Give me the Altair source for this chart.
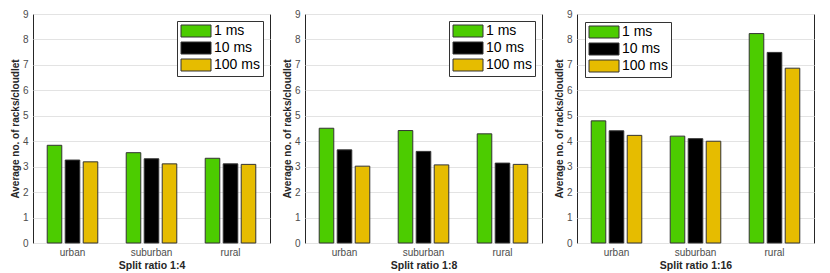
import altair as alt
import pandas as pd

regions = ["urban", "suburban", "rural"]
latencies = ["1 ms", "10 ms", "100 ms"]
colors = ["#4ccc00", "#000000", "#e6bc00"]

titles = ["Split ratio 1:4", "Split ratio 1:8", "Split ratio 1:16"]

# values per split ratio, per latency, ordered as regions
r4_1ms = [3.84, 3.55, 3.33]
r4_10ms = [3.26, 3.31, 3.11]
r4_100ms = [3.19, 3.11, 3.09]

r8_1ms = [4.51, 4.42, 4.29]
r8_10ms = [3.66, 3.60, 3.14]
r8_100ms = [3.02, 3.07, 3.09]

r16_1ms = [4.80, 4.20, 8.23]
r16_10ms = [4.41, 4.10, 7.49]
r16_100ms = [4.23, 4.00, 6.87]

series = [
    [r4_1ms, r4_10ms, r4_100ms],
    [r8_1ms, r8_10ms, r8_100ms],
    [r16_1ms, r16_10ms, r16_100ms],
]

FONT = "Liberation Sans"


def make_df(sets):
    rows = []
    for lat, vals in zip(latencies, sets):
        for reg, v in zip(regions, vals):
            rows.append({"region": reg, "latency": lat, "value": v})
    return pd.DataFrame(rows)


def panel(df, title, legend_orient, offset):
    return alt.Chart(df).mark_bar(stroke="#333333", strokeWidth=1).encode(
        x=alt.X("region:N", sort=regions,
                scale=alt.Scale(paddingInner=0, paddingOuter=0),
                axis=alt.Axis(title=title, labelAngle=0, bandPosition=0.5,
                              labelPadding=4, titlePadding=3,
                              titleFontSize=10.5, titleFontWeight="bold",
                              titleColor="#262626")),
        xOffset=alt.XOffset("latency:N", sort=latencies,
                            scale=alt.Scale(paddingInner=0.19, paddingOuter=0.79)),
        y=alt.Y("value:Q", scale=alt.Scale(domain=[0, 9], nice=False),
                axis=alt.Axis(title="Average no. of racks/cloudlet",
                              values=list(range(10)), labelPadding=5,
                              titlePadding=2, titleFontSize=10,
                              titleFontWeight="bold", titleColor="#262626")),
        color=alt.Color("latency:N", sort=latencies,
                        scale=alt.Scale(domain=latencies, range=colors),
                        legend=alt.Legend(
                            title=None, orient=legend_orient, offset=offset,
                            fillColor="white", strokeColor="#333333",
                            padding=3, rowPadding=1,
                            symbolType="M-1,-1H4V1H-1Z", symbolSize=144,
                            symbolStrokeColor="#333333", symbolStrokeWidth=1,
                            symbolOpacity=1,
                            labelFontSize=14, labelColor="black",
                            labelFont=FONT, labelOffset=20)),
    ).properties(width=237, height=229)


p1 = panel(make_df(series[0]), titles[0], "top-right", 7)
p2 = panel(make_df(series[1]), titles[1], "top-right", 7)
p3 = panel(make_df(series[2]), titles[2], "top-left", 8)

chart = alt.hconcat(p1, p2, p3, spacing=10).resolve_scale(
    color="independent").resolve_legend(color="independent").properties(
    padding={"left": 1, "top": 0, "right": 0, "bottom": 0}
).configure(font=FONT).configure_axis(
    labelFont=FONT, titleFont=FONT, labelFontSize=10, labelColor="#4d4d4d",
    gridColor="#e3e3e3", gridWidth=1, domain=False, ticks=False
).configure_view(stroke="#262626", strokeWidth=1)

chart.save("out.html", embed_options={"renderer": "svg", "actions": False})
